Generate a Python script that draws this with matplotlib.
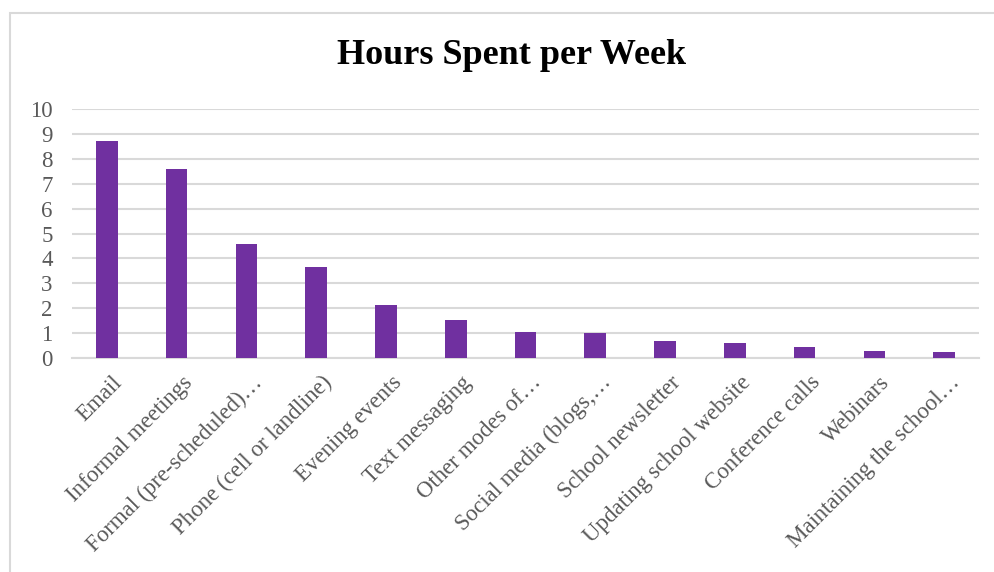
import numpy as np
import matplotlib
matplotlib.use("Agg")
import matplotlib.pyplot as plt
import matplotlib.transforms as mtransforms
from matplotlib.patches import Rectangle

# Kategorier och timmar per vecka
categories = ["Email", "Informal meetings", "Formal (pre-scheduled)\u2026",
              "Phone (cell or landline)", "Evening events", "Text messaging",
              "Other modes of\u2026", "Social media (blogs,\u2026",
              "School newsletter", "Updating school website",
              "Conference calls", "Webinars", "Maintaining the school\u2026"]
hours = [8.73, 7.58, 4.58, 3.64, 2.12, 1.53, 1.04, 1.0, 0.68, 0.59, 0.44, 0.29, 0.24]
yticks = list(range(0, 11))

plt.rcParams["font.family"] = ["Liberation Serif", "DejaVu Serif"]

fig = plt.figure(figsize=(9.94, 5.72), dpi=100)
ax = fig.add_axes([72 / 994, 1 - 358 / 572, (979 - 72) / 994, (358 - 109) / 572])

# Ram runt diagramytan
fig.patches.append(Rectangle((10 / 994, -0.1), 1.1, 1 - 13 / 572 + 0.1,
                             transform=fig.transFigure, fill=False,
                             edgecolor="#d9d9d9", linewidth=1.5))

x = np.arange(len(categories))
ax.bar(x, hours, width=0.31, color="#7030A0", zorder=3)

ax.set_xlim(-0.5, len(categories) - 0.5)
ax.set_ylim(0, 10)
ax.set_yticks(yticks)
ax.yaxis.grid(True, color="#d9d9d9", linewidth=1.5, zorder=0)
ax.set_axisbelow(True)
for side in ["top", "right", "left"]:
    ax.spines[side].set_visible(False)
ax.spines["bottom"].set_color("#d9d9d9")
ax.spines["bottom"].set_linewidth(1.5)

ax.tick_params(axis="y", length=0, pad=14, labelsize=16.5, labelcolor="#595959")
ax.tick_params(axis="x", length=0, pad=10, labelsize=16.5, labelcolor="#595959")
ax.set_xticks(x)
ax.set_xticklabels(categories, rotation=45, ha="right", rotation_mode="anchor")

# Flytta etiketterna lite åt höger
offset = mtransforms.ScaledTranslation(5 / 100, 0, fig.dpi_scale_trans)
for lbl in ax.get_xticklabels():
    lbl.set_transform(lbl.get_transform() + offset)

fig.text(512 / 994, 1 - 55 / 572, "Hours Spent per Week", ha="center", va="center",
         fontsize=26, fontweight="bold", color="black")

fig.savefig("out.png", dpi=100)
